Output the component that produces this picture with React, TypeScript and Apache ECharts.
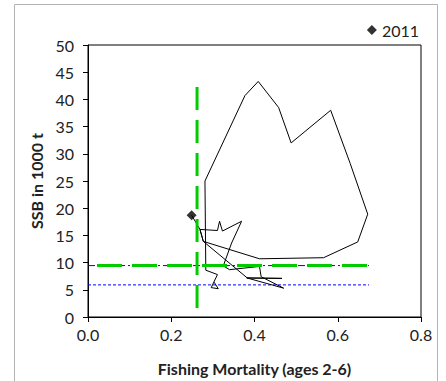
import React, { useEffect, useRef } from "react";
import * as echarts from "echarts";

// Stock trajectory: fishing mortality (ages 2-6) vs SSB (1000 t), last point = 2011
const fishingMortality = [
  0.303, 0.313, 0.296, 0.311, 0.283, 0.281, 0.377, 0.409, 0.458, 0.488, 0.583,
  0.63, 0.672, 0.648, 0.566, 0.412, 0.277, 0.269, 0.311, 0.316, 0.323, 0.369,
  0.345, 0.325, 0.34, 0.412, 0.416, 0.47, 0.381, 0.466, 0.383, 0.277, 0.269,
  0.249,
];
const ssb = [
  6.4, 5.2, 5.4, 7.8, 8.6, 25.0, 40.7, 43.3, 38.5, 32.0, 38.0, 28.2, 18.9,
  13.8, 10.9, 10.7, 13.9, 16.1, 15.9, 17.6, 15.8, 17.6, 13.6, 9.4, 8.7, 9.3,
  7.4, 5.3, 7.2, 7.1, 7.15, 13.9, 16.1, 18.7,
];
const lastYear = "2011";

// Reference points
const fpa = 0.262; // vertical green line
const fpaTop = 42.3;
const bpa = 9.45; // horizontal green / blue dash-dot
const blim = 5.9; // blue dotted
const refLineEnd = 0.675;

const xTicks = { min: 0, max: 0.8, interval: 0.2 };
const yTicks = { min: 0, max: 50, interval: 5 };

const FONT = "Lato, 'Open Sans', sans-serif";

export default function App() {
  const ref = useRef<HTMLDivElement>(null);
  useEffect(() => {
    if (!ref.current) return;
    const chart = echarts.init(ref.current, undefined, { renderer: "svg" });
    const traj = fishingMortality.map((f, i) => [f, ssb[i]]);
    const last = traj[traj.length - 1];
    chart.setOption({
      animation: false,
      textStyle: { fontFamily: FONT },
      graphic: [
        {
          type: "rect",
          shape: { x: 14.5, y: 4.5, width: 423, height: 420 },
          style: { fill: "none", stroke: "#b3b3b3", lineWidth: 1 },
          silent: true,
          z: -1,
        },
      ],
      legend: {
        data: [{ name: lastYear, icon: "diamond" }],
        right: 22,
        top: 17,
        itemWidth: 10,
        itemHeight: 10,
        itemGap: 4,
        textStyle: { fontSize: 16, color: "#222", fontFamily: FONT },
      },
      grid: {
        left: 88,
        top: 45,
        right: 25,
        bottom: 61,
        show: true,
        borderColor: "#000",
        borderWidth: 1,
        backgroundColor: "transparent",
      },
      xAxis: {
        type: "value",
        min: xTicks.min,
        max: xTicks.max,
        interval: xTicks.interval,
        name: "Fishing Mortality (ages 2-6)",
        nameLocation: "middle",
        nameGap: 43,
        nameTextStyle: { fontSize: 16, fontWeight: "bold", color: "#222", fontFamily: FONT },
        axisLine: { show: true, lineStyle: { color: "#000", width: 1 } },
        axisTick: { show: true, length: 5, lineStyle: { color: "#000" } },
        axisLabel: {
          fontSize: 16,
          color: "#222",
          margin: 9,
          formatter: (v: number) => v.toFixed(1),
        },
        splitLine: { show: false },
      },
      yAxis: {
        type: "value",
        min: yTicks.min,
        max: yTicks.max,
        interval: yTicks.interval,
        name: "SSB in 1000 t",
        nameLocation: "middle",
        nameGap: 44,
        nameRotate: 90,
        nameTextStyle: { fontSize: 16, fontWeight: "bold", color: "#222", fontFamily: FONT },
        axisLine: { show: true, lineStyle: { color: "#000", width: 1 } },
        axisTick: { show: true, length: 5, lineStyle: { color: "#000" } },
        axisLabel: { fontSize: 16, color: "#222", margin: 14 },
        splitLine: { show: false },
      },
      series: [
        {
          name: "blim",
          type: "line",
          data: [
            [0, blim],
            [refLineEnd, blim],
          ],
          symbol: "none",
          lineStyle: { color: "#0000ff", width: 1, type: [3, 2] },
          z: 1,
        },
        {
          name: "bpaBlue",
          type: "line",
          data: [
            [0, bpa],
            [refLineEnd, bpa],
          ],
          symbol: "none",
          lineStyle: { color: "#0000ff", width: 1, type: [7, 3, 2, 3] },
          z: 1,
        },
        {
          name: "traj",
          type: "line",
          data: traj,
          symbol: "none",
          lineStyle: { color: "#000", width: 1 },
          z: 2,
        },
        {
          name: "bpa",
          type: "line",
          data: [
            [0, bpa],
            [refLineEnd, bpa],
          ],
          symbol: "none",
          lineStyle: { color: "#00cc00", width: 3, type: [25, 10], dashOffset: -9 },
          z: 3,
        },
        {
          name: "fpa",
          type: "line",
          data: [
            [fpa, fpaTop],
            [fpa, 0],
          ],
          symbol: "none",
          lineStyle: { color: "#00cc00", width: 3, type: [23, 10] },
          z: 3,
        },
        {
          name: lastYear,
          type: "scatter",
          data: [last],
          symbol: "diamond",
          symbolSize: 10,
          itemStyle: { color: "#000" },
          z: 4,
        },
      ],
    });
    return () => chart.dispose();
  }, []);
  return (
    <div
      ref={ref}
      style={{ position: "absolute", left: 0, top: 0, width: 446, height: 381, background: "#fff" }}
    />
  );
}
